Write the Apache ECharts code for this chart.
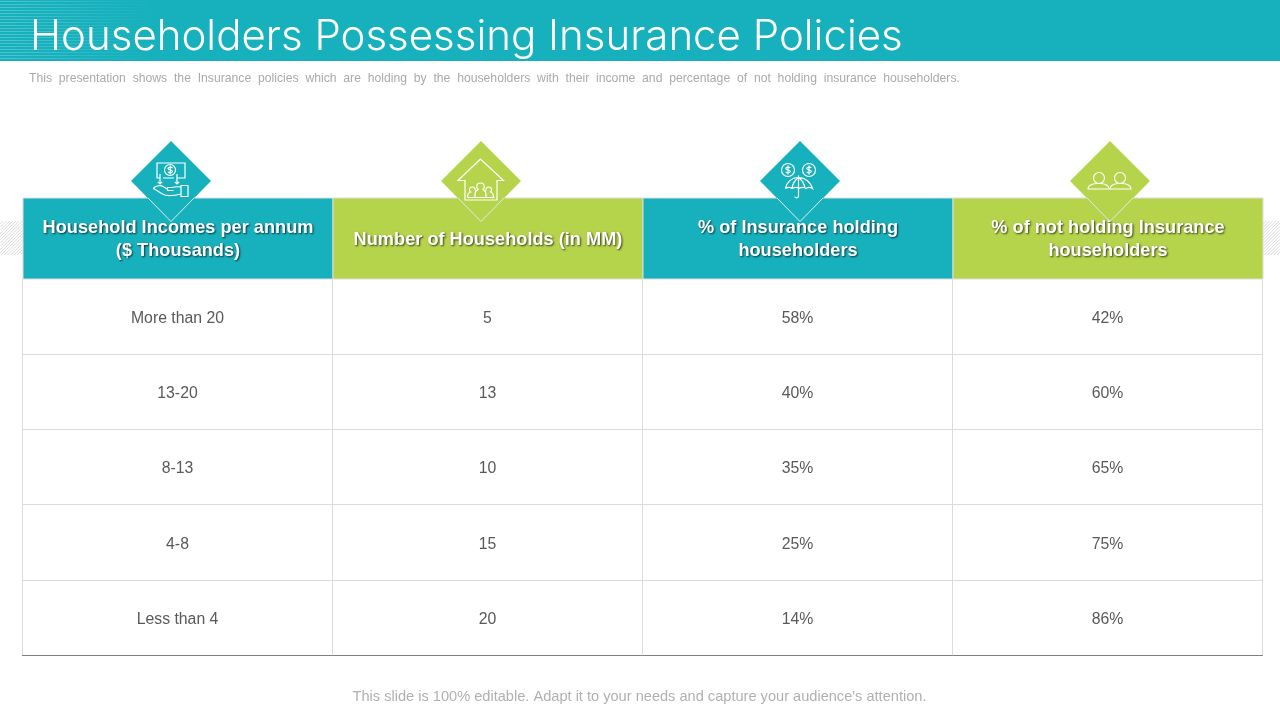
<!DOCTYPE html>
<html><head><meta charset="utf-8">
<style>html,body{margin:0;padding:0;background:#fff}#c{width:1280px;height:720px}</style>
<script src="https://cdn.jsdelivr.net/npm/echarts@6/dist/echarts.min.js"></script>
</head><body><div id="c"></div>
<script>
const titleText = 'Householders Possessing Insurance Policies';
const subtitleText = 'This presentation shows the Insurance policies which are holding by the householders with their income and percentage of not holding insurance householders.';
const footerText = "This slide is 100% editable. Adapt it to your needs and capture your audience's attention.";
const columns = ['Household Incomes per annum\n($ Thousands)', 'Number of Households (in MM)', '% of Insurance holding\nhouseholders', '% of not holding Insurance\nhouseholders'];
const rows = ['r1','r2','r3','r4','r5'];
const incomes = ['More than 20','13-20','8-13','4-8','Less than 4'];
const households = [5,13,10,15,20];
const holding = [58,40,35,25,14];
const notHolding = [42,60,65,75,86];
const TEAL = '#17b1bd', GREEN = '#b5d44b';

const bodyData = [];
rows.forEach((r,i)=>{
  bodyData.push([0,i,incomes[i]],[1,i,String(households[i])],[2,i,holding[i]+'%'],[3,i,notHolding[i]+'%']);
});
const headData = columns.map((c,i)=>[i,0]);

function bodyItem(params, api){
  const c = api.coord([api.value(0),api.value(1)]);
  return {type:'text',style:{x:c[0],y:c[1]+2,text:bodyData[params.dataIndex][2],align:'center',verticalAlign:'middle',
    font:'15.8px "Liberation Sans"',fill:'#595959'}};
}
function headItem(params, api){
  const c = api.coord([api.value(0),0]), s = api.size([1,1]);
  const i = params.dataIndex;
  return {type:'group',children:[
    {type:'rect',shape:{x:c[0]-s[0]/2,y:c[1]-s[1]/2,width:s[0],height:s[1]},
      style:{fill:i%2?GREEN:TEAL,stroke:'#dcdcdc',lineWidth:1}},
    {type:'text',z2:20,style:{x:c[0],y:c[1]+1,text:columns[i],align:'center',verticalAlign:'middle',lineHeight:23,
      font:'bold 18.2px "Liberation Sans"',fill:'#fff',textShadowColor:'rgba(0,0,0,0.7)',textShadowBlur:2,textShadowOffsetX:1,textShadowOffsetY:1}}
  ]};
}

const deco = [];
deco.push({type:'rect',shape:{x:0,y:0,width:1280,height:61},style:{fill:TEAL},z:1});
for(let y=1;y<61;y+=3){
  deco.push({type:'rect',shape:{x:0,y:y,width:150,height:1},z:2,style:{fill:{type:'linear',x:0,y:0,x2:1,y2:0,colorStops:[{offset:0,color:'rgba(255,255,255,0.25)'},{offset:1,color:'rgba(255,255,255,0)'}]}}});
}
function hatch(x0,x1){
  const y0=221,y1=255,step=3.2,ch=[];
  for(let t=x0-(y1-y0);t<x1;t+=step){
    const a=Math.max(t,x0), b=Math.min(t+(y1-y0),x1);
    ch.push({type:'line',z:1,shape:{x1:a,y1:y1-(a-t),x2:b,y2:y1-(b-t)},style:{stroke:'#cfcfcf',lineWidth:0.8}});
  }
  return ch;
}
deco.push(...hatch(0,23),...hatch(1263,1280));
deco.push({type:'text',z:5,style:{x:30,y:37,text:titleText,font:'300 42px Inter',fill:'#fff',verticalAlign:'middle'}});
deco.push({type:'text',z:5,style:{x:29,y:78.5,text:subtitleText.replace(/ /g,'  '),font:'12.2px "Liberation Sans"',fill:'#aaaaaa',verticalAlign:'middle'}});
deco.push({type:'text',z:5,style:{x:639.5,y:697,text:footerText,align:'center',verticalAlign:'middle',font:'14.6px "Liberation Sans"',fill:'#b0b0b0'}});

const centers=[171,481,800,1110];
centers.forEach((cx,i)=>{
  deco.push({type:'polygon',z:10,shape:{points:[[cx,141],[cx+40,181],[cx,221.5],[cx-40,181]]},style:{fill:i%2?GREEN:TEAL}});
  deco.push({type:'polyline',z:11,shape:{points:[[cx-23,198],[cx,221.5],[cx+23,198]]},style:{stroke:'#d9eef0',lineWidth:1,fill:null}});
});
const ic={stroke:'#fff',lineWidth:1.2,fill:null};
const icons=[
 'M160 178H157V163H185V178H177 M175.500 170a5.500 5.500 0 1 0-11 0a5.500 5.500 0 1 0 11 0 M172.500 168c-1-1.200-4.500-1-4.500 .6c0 2 4.500 1 4.500 3c0 1.500-3.500 1.700-4.500 .3 M170.200 165.500v9 M160 174v10 M157.800 181.800l2.200 2.200l2.200-2.200 M163 178H174 M177 174v10 M174.800 181.800l2.200 2.200l2.200-2.200 M181 185.500h7v11h-7z M181 187c-4-.5-6-.5-9 .5h-3.500c-2 0-2 3 0 3h5 M168 189.500l-5-3c-3-2-9 0-9.500 2l9 5.500c3 2 10 2 18.500 0',
 'M480.500 159L458 180.500H465V200H497V180.500H503.500Z M467.500 197.500H494.500 M467.500 197.500c0-3 1-5 3-5.500c-2-1.500-1-5 1.500-5s3.500 2 3 3.500 M475 197v-3c0-2 1-3.500 3-4.500c-2-1.500-2-6.500 2.500-6.500s4.500 5 2.500 6.500c2 1 3 2.500 3 4.500v3 M486 190.500c-.5-1.500 .5-3.500 3-3.500s3.500 3.500 1.500 5c2 .5 3 2.500 3 5.500',
 'M794.500 170a6.500 6.500 0 1 0-13 0a6.500 6.500 0 1 0 13 0 M815.500 170a6.500 6.500 0 1 0-13 0a6.500 6.500 0 1 0 13 0 M790.300 167.800c-1-1.200-4.500-1-4.500 .7c0 2 4.500 1 4.500 3c0 1.500-3.500 1.700-4.500 .3 M788 165.500v9 M811.300 167.800c-1-1.200-4.500-1-4.500 .7c0 2 4.500 1 4.500 3c0 1.500-3.500 1.700-4.500 .3 M809 165.500v9 M785.500 188.500c1-6 6-11 13-11s12 5 14 11c-2-1.500-4.500-1.500-6.500 0c-2-1.500-4.500-1.500-7 0c-2-1.500-4.500-1.500-7 0c-2-1.500-4.500-1.500-6.500 0 M798.500 175.500V196c0 2.500-3.500 2.500-3.500 .5 M792 188c.8-4.500 3-8 6.500-10.500c3.500 2.500 5.700 6 6.500 10.500',
 'M1104.500 178a5.500 5.500 0 1 0-11 0a5.500 5.500 0 1 0 11 0 M1125.500 178a5.500 5.500 0 1 0-11 0a5.500 5.500 0 1 0 11 0 M1088 189c0-3.500 3.500-5 8-5.500h5c4.500 .5 8 2 8 5.500Z M1110 189c0-3.500 3.500-5 8-5.500h5c4.500 .5 8 2 8 5.500Z'
];
icons.forEach((p,i)=>{
  echarts.graphic.registerShape('icon'+i, echarts.graphic.extendPath(p,{}));
  deco.push({type:'icon'+i,z:12,shape:{},style:ic});
});

const chart = echarts.init(document.getElementById('c'),null,{renderer:'canvas',width:1280,height:720});
chart.setOption({
  animation:false,
  backgroundColor:'#fff',
  grid:[
    {left:23,width:1240,top:198,height:81},
    {left:22.5,width:1240,top:278.500,height:377}
  ],
  xAxis:[
    {gridIndex:0,type:'category',data:columns,show:false},
    {gridIndex:1,type:'category',data:columns,position:'bottom',axisLabel:{show:false},axisTick:{show:false},
      axisLine:{show:true,lineStyle:{color:'#7f7f7f',width:1}},
      splitLine:{show:true,lineStyle:{color:'#dcdcdc',width:1}}}
  ],
  yAxis:[
    {gridIndex:0,type:'category',data:['h'],show:false},
    {gridIndex:1,type:'category',data:rows,inverse:true,axisLabel:{show:false},axisTick:{show:false},
      axisLine:{show:true,lineStyle:{color:'#dcdcdc',width:1}},
      splitLine:{show:true,lineStyle:{color:'#dcdcdc',width:1}}}
  ],
  series:[
    {type:'custom',xAxisIndex:0,yAxisIndex:0,data:headData,renderItem:headItem,encode:{x:0,y:1},silent:true,z:3},
    {type:'custom',xAxisIndex:1,yAxisIndex:1,data:bodyData.map(d=>[d[0],d[1]]),renderItem:bodyItem,encode:{x:0,y:1},silent:true,z:3}
  ],
  graphic:{elements:deco}
});
</script></body></html>
